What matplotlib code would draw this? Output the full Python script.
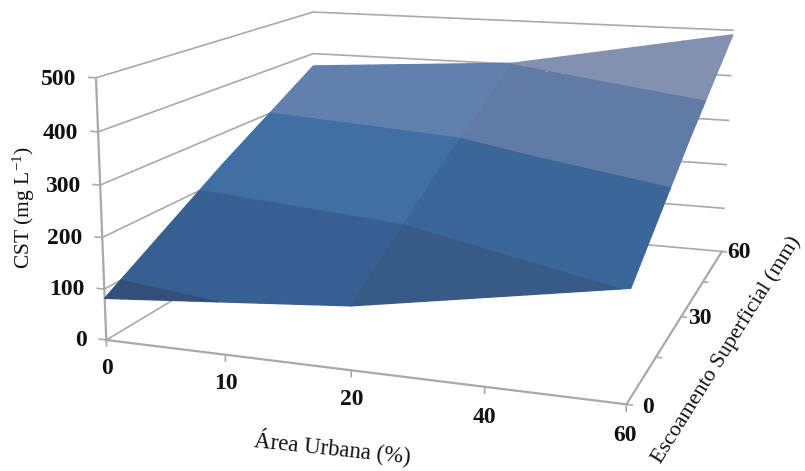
"""
Superficie CST vs area urbana y escoamento, estilo grafico 3D de Excel.
"""
import numpy as np
import matplotlib
matplotlib.use("Agg")
import matplotlib.pyplot as plt
from mpl_toolkits.mplot3d import proj3d
from mpl_toolkits.mplot3d.art3d import Poly3DCollection

plt.rcParams['font.family'] = ['Liberation Serif', 'DejaVu Serif']
plt.rcParams['mathtext.fontset'] = 'custom'
plt.rcParams['mathtext.rm'] = 'Liberation Serif'
plt.rcParams['mathtext.default'] = 'regular'

# Datos
area_labels = ['0', '10', '20', '40', '60']
esco_labels = ['0', '', '30', '', '60']
cst_ticks = [0, 100, 200, 300, 400, 500]

# posicion de cada vertice en las categorias
area_pos = [0, 2, 4]
esco_pos = [0, 2, 4]
cst_esco_0 = [82, 120, 203]
cst_esco_30 = [232, 268, 353]
cst_esco_60 = [370, 402, 490]

band_levels = [0, 100, 200, 300, 400, 500]
band_left = ['#344f7a', '#375f92', '#3f6fa3', '#6180ae', '#6a85b0']
band_right = ['#385a87', '#385a87', '#3b6699', '#5f7ba6', '#8391b0']
GRID = '#a9a9a9'

# Calibracion de la camara: esquina de la caja -> pixel de la imagen
cal_world = [(0, 0, 0), (1, 0, 0), (2, 0, 0), (3, 0, 0), (4, 0, 0),
             (4, 1, 0), (4, 2, 0), (4, 3, 0), (4, 4, 0), (0, 4, 0),
             (0, 0, 100), (0, 0, 200), (0, 0, 300), (0, 0, 400), (0, 0, 500),
             (0, 4, 400), (0, 4, 500), (4, 4, 100), (4, 4, 200), (4, 4, 300),
             (4, 4, 400), (4, 4, 500)]
cal_pixel = [(108, 339), (226, 354), (350, 370), (482, 388), (626, 407),
             (657, 358), (683, 315), (705, 279), (722, 249), (313, 220),
             (105, 288), (102, 237), (100, 185), (98, 132), (95, 79),
             (314, 52), (314, 10), (723, 208), (725, 165), (728, 122),
             (731, 76), (733, 32)]


def fit_camera(world, pixel):
    """Ajusta la matriz de proyeccion 4x4 (DLT) que usa Axes3D."""
    rows = []
    rhs = []
    for (x, y, z), (u, v) in zip(world, pixel):
        rows.append([x, y, z, 1, 0, 0, 0, 0, -u * x, -u * y, -u * z])
        rows.append([0, 0, 0, 0, x, y, z, 1, -v * x, -v * y, -v * z])
        rhs += [u, v]
    p = np.linalg.lstsq(np.array(rows, float), np.array(rhs, float), rcond=None)[0]
    return np.array([[p[0], p[1], p[2], p[3]],
                     [p[4], p[5], p[6], p[7]],
                     [-1.0, 1.0, 0.0, 0.0],
                     [p[8], p[9], p[10], 1.0]])


def clip_level(poly, level, keep_above):
    """Recorta un poligono 3D con el plano z = level."""
    out = []
    for i in range(len(poly)):
        a, b = poly[i], poly[(i + 1) % len(poly)]
        in_a = (a[2] >= level) == keep_above
        in_b = (b[2] >= level) == keep_above
        if in_a:
            out.append(a)
        if in_a != in_b:
            t = (level - a[2]) / (b[2] - a[2])
            out.append(tuple(a[k] + t * (b[k] - a[k]) for k in range(3)))
    return out


cst = np.array([cst_esco_0, cst_esco_30, cst_esco_60], float)

fig = plt.figure(figsize=(8.05, 4.71), dpi=100)
ax = fig.add_axes([0, 0, 1, 1], projection='3d')
ax.set_axis_off()
ax.computed_zorder = False
ax.set_proj_type('ortho')  # evita el recorte de lineas en modo persp
ax.set_xlim(0, 4)
ax.set_ylim(0, 4)
ax.set_zlim(0, 500)

# la vista sale de la calibracion, no de elev/azim
cam = fit_camera(cal_world, cal_pixel)
ax.get_proj = lambda: cam
ax.apply_aspect = lambda position=None: None
ax.viewLim.intervalx = (0, 805)
ax.viewLim.intervaly = (471, 0)


def box_text(x, y, z, label, **kwargs):
    """Texto anclado a un punto de la caja 3D."""
    u, v, _ = proj3d.proj_transform(x, y, z, cam)
    fig.text(u / 805, 1 - v / 471, label, **kwargs)


# Paredes y ejes
for level in cst_ticks[1:]:
    ax.plot([0, 0, 4], [0, 4, 4], [level, level, level], color=GRID, lw=1.2, zorder=1)
    ax.plot([-0.06, 0], [0, 0], [level, level], color=GRID, lw=1.2, zorder=1)
ax.plot([-0.06, 0], [0, 0], [0, 0], color=GRID, lw=1.2, zorder=1)
ax.plot([0, 0], [0, 4], [0, 0], color=GRID, lw=1.2, zorder=1)
ax.plot([0, 4], [4, 4], [0, 0], color=GRID, lw=1.2, zorder=1)
ax.plot([0, 0], [0, 0], [0, 500], color=GRID, lw=1.6, zorder=1)
ax.plot([0, 4, 4], [0, 0, 4], [0, 0, 0], color=GRID, lw=1.6, zorder=1)

for i in range(5):
    ax.plot([i, i], [0, 0], [0, -12], color=GRID, lw=1.2, zorder=1)
    ax.plot([4, 4.04], [i, i], [0, 0], color=GRID, lw=1.2, zorder=1)

# Superficie, una banda de color cada 100 mg/L
polys = []
colors = []
n_sub = 14
for j in range(len(esco_pos) - 1):
    for i in range(len(area_pos) - 1):
        palette = band_left if i == 0 else band_right
        ts = np.linspace(0, 1, n_sub + 1)
        for a in range(n_sub):
            for b in range(n_sub):
                cell = []
                for s, t in [(ts[a], ts[b]), (ts[a + 1], ts[b]),
                             (ts[a + 1], ts[b + 1]), (ts[a], ts[b + 1])]:
                    xv = area_pos[i] + s * (area_pos[i + 1] - area_pos[i])
                    yv = esco_pos[j] + t * (esco_pos[j + 1] - esco_pos[j])
                    zv = ((1 - s) * (1 - t) * cst[j, i] + s * (1 - t) * cst[j, i + 1]
                          + (1 - s) * t * cst[j + 1, i] + s * t * cst[j + 1, i + 1])
                    cell.append((xv, yv, zv))
                for k, color in enumerate(palette):
                    part = clip_level(cell, band_levels[k], True)
                    if part:
                        part = clip_level(part, band_levels[k + 1], False)
                    if len(part) >= 3:
                        polys.append(part)
                        colors.append(color)

surf = Poly3DCollection(polys, facecolors=colors, edgecolors=colors, linewidths=1.0,
                        zsort='average', zorder=2)
ax.add_collection3d(surf)

# Etiquetas de los ejes
tick_font = dict(fontsize=17, fontweight='bold', color='#111111', ha='center', va='center')
for level in cst_ticks:
    box_text(-0.17, 0, level - 6, str(level), **{**tick_font, 'ha': 'right'})
for i, label in enumerate(area_labels):
    box_text(i, 0, -56, label, **tick_font)
for i, label in enumerate(esco_labels):
    if label:
        box_text(4.15, i, 0, label, **tick_font)

fig.text(24 / 805, 1 - 208 / 471, 'CST (mg L$^{-1}$)', rotation=90, ha='center', va='center',
         fontsize=15.5, color='#111111')
fig.text(333 / 805, 1 - 447 / 471, 'Área Urbana (%)', rotation=-6, ha='center', va='center',
         fontsize=16.5, color='#111111')
fig.text(726 / 805, 1 - 350 / 471, 'Escoamento Superficial (mm)', rotation=58, ha='center',
         va='center', fontsize=15.8, color='#111111')

fig.savefig('out.png', dpi=100)
